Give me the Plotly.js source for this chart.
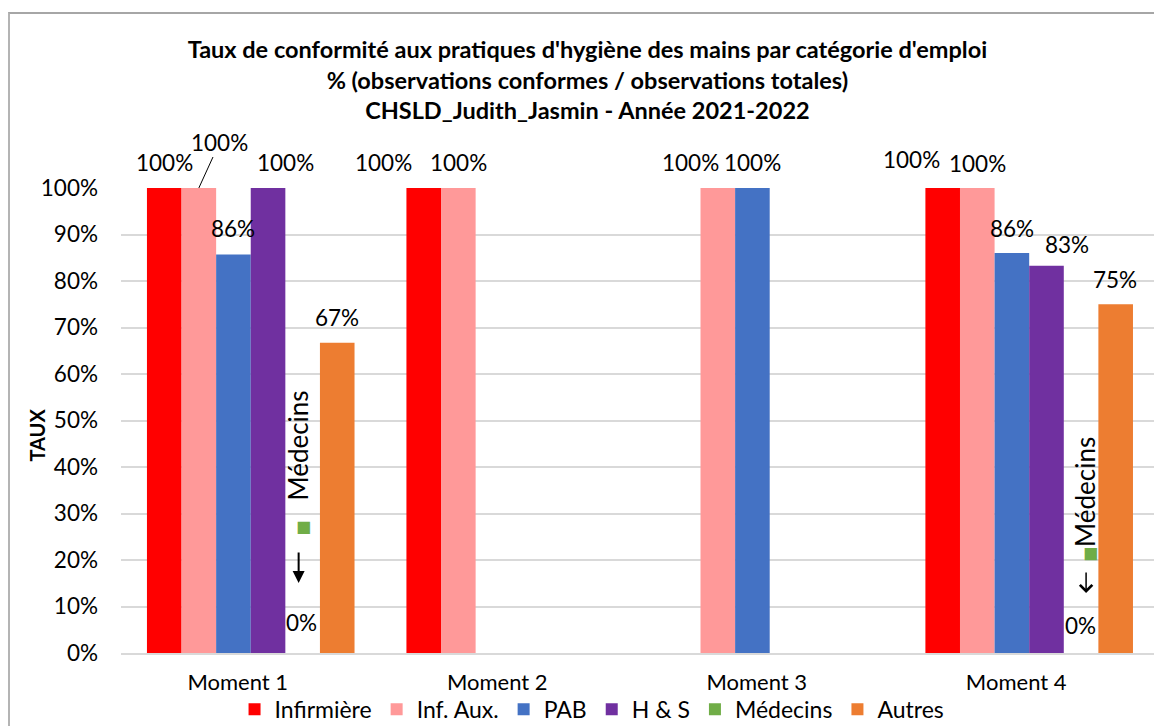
<!DOCTYPE html>
<html>
<head>
<meta charset="utf-8">
<script src="https://cdn.plot.ly/plotly-3.0.1.min.js"></script>
<style>
html,body{margin:0;padding:0;background:#fff;overflow:hidden;}
#frame{position:absolute;left:8px;top:12px;width:1300px;height:900px;border-left:2px solid #b4b4b4;border-top:2px solid #a6a6a6;box-sizing:border-box;}
#chart{position:absolute;left:0;top:0;width:1154px;height:726px;}
</style>
</head>
<body>
<div id="frame"></div>
<div id="chart"></div>
<script>
// ---- data ----
const categories = ['Moment 1', 'Moment 2', 'Moment 3', 'Moment 4'];
const seriesNames = ['Infirmière', 'Inf. Aux.', 'PAB', 'H & S', 'Médecins', 'Autres'];
const infirmiere = [1, 1, null, 1];
const infAux = [1, 1, 1, 1];
const pab = [0.857, null, 1, 0.86];
const hs = [1, null, null, 0.833];
const medecins = [0, null, null, 0];
const autres = [0.667, null, null, 0.75];
const yTickVals = [0, 0.1, 0.2, 0.3, 0.4, 0.5, 0.6, 0.7, 0.8, 0.9, 1];
const yTickText = ['0%', '10%', '20%', '30%', '40%', '50%', '60%', '70%', '80%', '90%', '100%'];
const titleLines = [
  "Taux de conformité aux pratiques d'hygiène des mains par catégorie d'emploi",
  "% (observations conformes / observations totales)",
  "CHSLD_Judith_Jasmin - Année 2021-2022"
];

// ---- styles ----
const colors = ['#FF0000', '#FF9999', '#4472C4', '#7030A0', '#70AD47', '#ED7D31'];
const FONT = 'Lato, "Open Sans", sans-serif';
const TXT = '#000000';
const allSeries = [infirmiere, infAux, pab, hs, medecins, autres];

const traces = allSeries.map((vals, i) => ({
  type: 'bar',
  name: seriesNames[i],
  x: categories,
  y: vals,
  marker: {color: colors[i], line: {width: 0}},
  hoverinfo: 'x+y+name'
}));

// label position tweaks (pixels): key "series-category"
const labelShift = {
  '0-0': [0, 26], '0-1': [-40, 26], '0-3': [-31, 29],
  '1-1': [0, 26], '1-2': [-27, 26], '1-3': [0, 25],
  '2-0': [0, 26], '2-2': [0, 26], '2-3': [0, 25],
  '3-0': [17, 26], '3-3': [21, 21],
  '5-0': [0, 25], '5-3': [-1, 25]
};
const nS = seriesNames.length;
const slotW = 0.8 / nS;
function slotX(si, ci) { return ci + (si - (nS - 1) / 2) * slotW; }
const LBL = 22.5;

const annotations = [];
allSeries.forEach((vals, si) => {
  vals.forEach((v, ci) => {
    if (v === null || si === 4) return;
    const txt = Math.round(v * 100) + '%';
    if (si === 1 && ci === 0) {
      annotations.push({x: slotX(si, ci), y: v, xref: 'x', yref: 'y', text: txt,
        showarrow: true, arrowhead: 0, arrowwidth: 1, arrowcolor: '#000',
        ax: 21, ay: -46, font: {family: FONT, size: LBL, color: TXT}});
      return;
    }
    const sh = labelShift[si + '-' + ci] || [0, 26];
    annotations.push({x: slotX(si, ci), y: v, xref: 'x', yref: 'y', text: txt,
      showarrow: false, xanchor: 'center', yanchor: 'middle',
      xshift: sh[0], yshift: sh[1], font: {family: FONT, size: LBL, color: TXT}});
  });
});

// Médecins zero-value labels: rotated legend key + series name, arrow, and value
const keySpan = '<span style="color:' + colors[4] + ';font-size:16px;font-family:DejaVu Sans">■</span>';
const medLabel = {
  0: {text: keySpan + '\u00A0\u00A0\u00A0' + seriesNames[4], name: [-5, 190],
      arrow: {shift: [-4, 70], len: 32, head: 2, size: 1.2, width: 2}, val: [-1, 31]},
  3: {text: keySpan + seriesNames[4], name: [4, 153],
      arrow: {shift: [5, 60], len: 22, head: 4, size: 1.6, width: 1.5}, val: [-1, 28]}
};
medecins.forEach((v, ci) => {
  if (v === null) return;
  const p = medLabel[ci];
  const xs = slotX(4, ci);
  annotations.push({x: xs, y: v, xref: 'x', yref: 'y', text: p.text, textangle: -90,
    showarrow: false, xanchor: 'center', yanchor: 'middle', xshift: p.name[0], yshift: p.name[1],
    font: {family: FONT, size: 26, color: TXT}});
  annotations.push({x: xs, y: v, xref: 'x', yref: 'y', text: '',
    showarrow: true, arrowhead: p.arrow.head, arrowsize: p.arrow.size, arrowwidth: p.arrow.width,
    arrowcolor: '#000', ax: 0, ay: -p.arrow.len,
    xshift: p.arrow.shift[0], yshift: p.arrow.shift[1], font: {size: 1}});
  annotations.push({x: xs, y: v, xref: 'x', yref: 'y', text: Math.round(v * 100) + '%',
    showarrow: false, xanchor: 'center', yanchor: 'middle', xshift: p.val[0], yshift: p.val[1],
    font: {family: FONT, size: LBL, color: TXT}});
});

// y-axis title
annotations.push({xref: 'paper', yref: 'paper', x: 0, y: 0.5, xshift: -85, yshift: -15,
  text: '<b>TAUX</b>', textangle: -90, showarrow: false, xanchor: 'center', yanchor: 'middle',
  font: {family: FONT, size: 20, color: TXT}});

const layout = {
  width: 1154, height: 726,
  margin: {l: 121, r: 0, t: 188, b: 73, autoexpand: false},
  paper_bgcolor: 'rgba(0,0,0,0)', plot_bgcolor: 'rgba(0,0,0,0)',
  font: {family: FONT, size: 22, color: TXT},
  title: {
    text: titleLines.map(s => '<b>' + s + '</b>').join('<br>'),
    xref: 'container', yref: 'container', x: 0.509, y: 1 - 58 / 726,
    xanchor: 'center', yanchor: 'top',
    font: {family: FONT, size: 23.5, color: TXT}
  },
  barmode: 'group', bargap: 0.2, bargroupgap: 0,
  xaxis: {
    type: 'category', range: [-0.5, 3.481], automargin: false,
    showgrid: false, showline: true, linecolor: '#d9d9d9', linewidth: 1.5,
    ticks: '', tickangle: 0, ticklabelshift: -13, ticklabelstandoff: 9,
    tickfont: {family: FONT, size: 22, color: TXT}
  },
  yaxis: {
    range: [0, 1], tickvals: yTickVals, ticktext: yTickText, automargin: false,
    showgrid: true, gridcolor: '#d9d9d9', gridwidth: 1.5, zeroline: false,
    ticks: '', ticklabelstandoff: 22,
    tickfont: {family: FONT, size: LBL, color: TXT}
  },
  legend: {
    orientation: 'h', x: 0.456, xanchor: 'center', y: -0.121, yanchor: 'middle',
    font: {family: FONT, size: 23, color: TXT}, itemwidth: 30, traceorder: 'normal',
    bgcolor: 'rgba(0,0,0,0)'
  },
  annotations: annotations,
  showlegend: true
};

Plotly.newPlot('chart', traces, layout, {displayModeBar: false, responsive: false});
</script>
</body>
</html>
